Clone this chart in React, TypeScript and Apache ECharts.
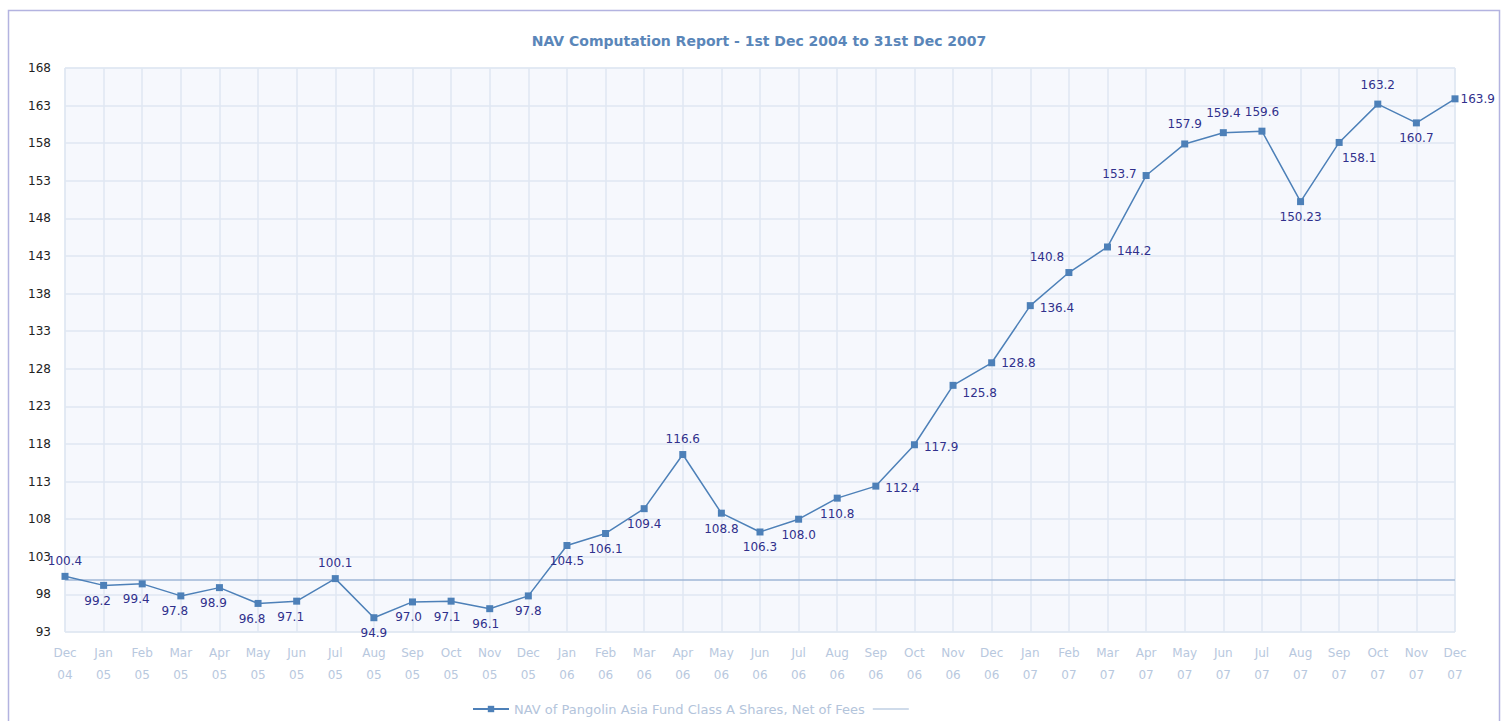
import React, { useEffect, useRef } from "react";
import * as echarts from "echarts";

const TITLE = "NAV Computation Report - 1st Dec 2004 to 31st Dec 2007";
const SERIES_NAME = "NAV of Pangolin Asia Fund Class A Shares, Net of Fees";
const MONTHS = [
  "Dec\n04", "Jan\n05", "Feb\n05", "Mar\n05", "Apr\n05", "May\n05", "Jun\n05", "Jul\n05", "Aug\n05", "Sep\n05", "Oct\n05", "Nov\n05", "Dec\n05",
  "Jan\n06", "Feb\n06", "Mar\n06", "Apr\n06", "May\n06", "Jun\n06", "Jul\n06", "Aug\n06", "Sep\n06", "Oct\n06", "Nov\n06", "Dec\n06",
  "Jan\n07", "Feb\n07", "Mar\n07", "Apr\n07", "May\n07", "Jun\n07", "Jul\n07", "Aug\n07", "Sep\n07", "Oct\n07", "Nov\n07", "Dec\n07",
];
const NAV = [
  100.4, 99.2, 99.4, 97.8, 98.9, 96.8, 97.1, 100.1, 94.9, 97.0, 97.1, 96.1, 97.8,
  104.5, 106.1, 109.4, 116.6, 108.8, 106.3, 108.0, 110.8, 112.4, 117.9, 125.8, 128.8,
  136.4, 140.8, 144.2, 153.7, 157.9, 159.4, 159.6, 150.23, 158.1, 163.2, 160.7, 163.9,
];
const NAV_TEXT = [
  "100.4", "99.2", "99.4", "97.8", "98.9", "96.8", "97.1", "100.1", "94.9", "97.0", "97.1", "96.1", "97.8",
  "104.5", "106.1", "109.4", "116.6", "108.8", "106.3", "108.0", "110.8", "112.4", "117.9", "125.8", "128.8",
  "136.4", "140.8", "144.2", "153.7", "157.9", "159.4", "159.6", "150.23", "158.1", "163.2", "160.7", "163.9",
];
const BASELINE = 100;
const Y_MIN = 93;
const Y_MAX = 168;
const Y_STEP = 5;

// label placement per point (style, not data)
const LABEL_POS: string[] = [
  "top", "bottom", "bottom", "bottom", "bottom", "bottom", "bottom", "top", "bottom", "bottom", "bottom", "bottom", "bottom",
  "bottom", "bottom", "bottom", "top", "bottom", "bottom", "bottom", "bottom", "right", "right", "right", "right",
  "right", "top", "right", "left", "top", "top", "top", "bottom", "bottom", "top", "bottom", "right",
];
const LABEL_OFF: number[][] = [
  [0, 0], [-6, 0], [-6, 0], [-6, 0], [-6, 0], [-6, 0], [-6, 0], [0, 0], [0, 0], [-4, 0], [-4, 0], [-4, 0], [0, 0],
  [0, 0], [0, 0], [0, 0], [0, 0], [0, 0], [0, 0], [0, 0], [0, 0], [0, 2], [0, 2], [0, 8], [0, 0],
  [0, 2], [-22, 0], [0, 4], [0, -2], [0, -4], [0, -4], [0, -4], [0, 0], [20, 0], [0, -4], [0, 0], [-4, 0],
];

export default function App() {
  const ref = useRef<HTMLDivElement>(null);
  useEffect(() => {
    if (!ref.current) return;
    const chart = echarts.init(ref.current, null, { renderer: "svg" });
    const font = "DejaVu Sans, Verdana, sans-serif";
    chart.setOption({
      animation: false,
      backgroundColor: "#ffffff",
      textStyle: { fontFamily: font },
      title: {
        text: TITLE,
        left: 754,
        textAlign: "center",
        top: 29,
        textStyle: { fontSize: 14, fontWeight: "bold", color: "#5a86b9", fontFamily: font },
      },
      graphic: [
        {
          type: "rect",
          shape: { x: 8.5, y: 10.5, width: 1491, height: 730 },
          style: { fill: "none", stroke: "#b3b3e0", lineWidth: 1.5 },
          silent: true,
          z: -10,
        },
      ],
      legend: {
        left: 470,
        top: 700,
        itemWidth: 36,
        itemHeight: 8,
        itemGap: 8,
        padding: 2,
        textStyle: { color: "#b3c4db", fontSize: 13, lineHeight: 14, fontFamily: font },
        data: [
          { name: SERIES_NAME },
          { name: " ", icon: "path://M0,0 L36,0 L36,1 L0,1 Z" },
        ],
      },
      grid: {
        left: 65,
        top: 68,
        width: 1390,
        height: 564,
        show: true,
        backgroundColor: "#f6f8fd",
        borderColor: "#dfe7f2",
        borderWidth: 1,
      },
      xAxis: {
        type: "category",
        data: MONTHS,
        boundaryGap: false,
        axisLine: { show: false },
        axisTick: { show: false },
        splitLine: { show: true, lineStyle: { color: "#dfe7f2", width: 1.5 } },
        axisLabel: {
          color: "#b8c8de",
          fontSize: 12,
          lineHeight: 22,
          margin: 10,
          interval: 0,
          fontFamily: font,
        },
      },
      yAxis: {
        type: "value",
        min: Y_MIN,
        max: Y_MAX,
        interval: Y_STEP,
        axisLine: { show: false },
        axisTick: { show: false },
        splitLine: { show: true, lineStyle: { color: "#dfe7f2", width: 1.5 } },
        axisLabel: { color: "#222222", fontSize: 12, margin: 14, fontFamily: font },
      },
      series: [
        {
          name: SERIES_NAME,
          type: "line",
          data: NAV.map((v, i) => ({
            value: v,
            label: {
              position: LABEL_POS[i],
              offset: LABEL_OFF[i],
              formatter: NAV_TEXT[i],
            },
          })),
          symbol: "rect",
          symbolSize: 7,
          itemStyle: { color: "#4d80b8" },
          lineStyle: { color: "#4d80b8", width: 1.5 },
          label: {
            show: true,
            color: "#30308c",
            fontSize: 12,
            fontFamily: font,
            distance: 6,
          },
          z: 5,
        },
        {
          name: " ",
          type: "line",
          data: [],
          symbol: "none",
          itemStyle: { color: "#9fb7d6" },
          lineStyle: { color: "#9fb7d6", width: 1.5 },
          markLine: {
            silent: true,
            symbol: "none",
            label: { show: false },
            lineStyle: { color: "#9fb7d6", width: 1.5, type: "solid" },
            data: [{ yAxis: BASELINE }],
          },
          z: 3,
        },
      ],
    });
    return () => chart.dispose();
  }, []);
  return (
    <div
      ref={ref}
      style={{ position: "fixed", left: 0, top: 0, width: 1506, height: 721 }}
    />
  );
}
